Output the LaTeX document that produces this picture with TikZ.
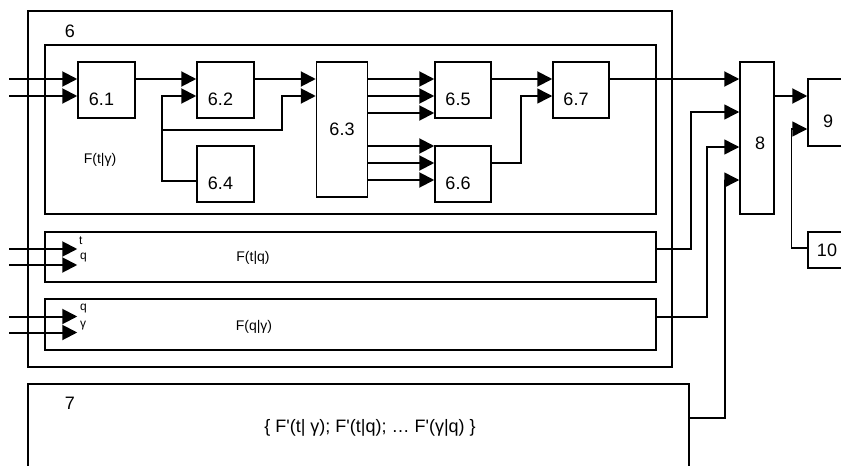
\documentclass[tikz,border=0pt]{standalone}
\usepackage{fontspec}
\setmainfont{Liberation Sans}
\usetikzlibrary{arrows.meta,positioning}
\newcommand{\numfont}{\fontsize{18}{21}\selectfont}
\newcommand{\midfont}{\fontsize{14}{16}\selectfont}
\newcommand{\tinyfont}{\fontsize{12}{14}\selectfont}

\begin{document}
\begin{tikzpicture}[
  x=1pt, y=-1pt,
  >=Latex,
  frame/.style={
    draw,
    line width=1.5pt,
    inner sep=0pt
  },
  blk/.style={frame, minimum width=57pt, minimum height=56pt},
  num/.style={font=\numfont, xshift=-5pt, yshift=-9pt},
  tag/.style={font=\numfont, inner sep=0pt},
  fname/.style={font=\midfont, inner sep=0pt},
  var/.style={font=\tinyfont, inner sep=0pt, anchor=west},
  arr/.style={-{Triangle[length=15pt,width=15pt]}, line width=2pt},
  wire/.style={line width=1.5pt},
  wirearr/.style={-{Triangle[length=15pt,width=15pt]}, line width=1.5pt}
]
  \path[use as bounding box, fill=white] (0,0) rectangle (841,466);

  % outer block 6 and block 7
  \node[frame, minimum width=644pt, minimum height=356pt] (b6) at (350,189) {};
  \node[tag] (lab6) at (70,31) {6};
  \node[frame, minimum width=661pt, minimum height=130pt] (b7) at (358.5,449) {};
  \node[tag] (lab7) at (70,403) {7};
  \node[font=\numfont, inner sep=0pt] (set7) at (370,428)
    {\{ F\textquotesingle(t| γ); F\textquotesingle(t|q); … F\textquotesingle(γ|q) \}};

  % sub-blocks of 6
  \node[frame, minimum width=611pt, minimum height=169pt] (fty) at (350.5,129.5) {};
  \node[fname] (ftylab) at (100,160) {F(t|γ)};
  \node[frame, minimum width=611pt, minimum height=50pt] (ftq) at (350.5,257) {};
  \node[fname] (ftqlab) at (253,258) {F(t|q)};
  \node[frame, minimum width=611pt, minimum height=51pt] (fqg) at (350.5,324.5) {};
  \node[fname] (fqglab) at (254,327) {F(q|γ)};

  \node[var] (vt1) at (79,241) {t};
  \node[var] (vq1) at (80,258) {q};
  \node[var] (vq2) at (80,309) {q};
  \node[var] (vg2) at (80,326) {γ};

  % inner chain
  \node[blk, label={[num]center:6.1}] (b61) at (106.5,90) {};
  \node[blk, label={[num]center:6.2}] (b62) at (225.5,90) {};
  \node[frame, minimum width=51pt, minimum height=135pt, font=\numfont] (b63) at (342,129.5) {6.3};
  \node[blk, label={[num]center:6.4}] (b64) at (225.5,174) {};
  \node[blk, minimum width=56pt, label={[num]center:6.5}] (b65) at (463,90) {};
  \node[blk, minimum width=56pt, label={[num]center:6.6}] (b66) at (463,174) {};
  \node[blk, minimum width=56pt, label={[num]center:6.7}] (b67) at (581,90) {};

  % blocks 8, 9, 10
  \node[frame, minimum width=34pt, minimum height=152pt,
        label={[font=\numfont, xshift=3pt, yshift=-5pt]center:8}] (b8) at (757,138) {};
  \node[frame, minimum width=50pt, minimum height=67pt, label={[num]center:9}] (b9) at (833,112.5) {};
  \node[frame, minimum width=38pt, minimum height=36pt, font=\numfont] (b10) at (827,250) {10};

  % inputs
  \draw[arr] ([xshift=-68pt,yshift=11pt]b61.west) -- ([yshift=11pt]b61.west);
  \draw[arr] ([xshift=-68pt,yshift=-6pt]b61.west) -- ([yshift=-6pt]b61.west);
  \draw[arr] ([xshift=-35pt,yshift=8pt]ftq.west) -- ([xshift=33pt,yshift=8pt]ftq.west);
  \draw[arr] ([xshift=-35pt,yshift=-8pt]ftq.west) -- ([xshift=33pt,yshift=-8pt]ftq.west);
  \draw[arr] ([xshift=-35pt,yshift=8pt]fqg.west) -- ([xshift=33pt,yshift=8pt]fqg.west);
  \draw[arr] ([xshift=-35pt,yshift=-8pt]fqg.west) -- ([xshift=33pt,yshift=-8pt]fqg.west);

  % chain inside F(t|y)
  \draw[arr] ([yshift=11pt]b61.east) -- ([yshift=11pt]b62.west);
  \draw[arr] ([yshift=-7pt]b64.west) -- ++(-34,0) coordinate (split) |- ([yshift=-6pt]b62.west);
  \draw[arr] ([yshift=51pt]split) -- ++(120,0) |- ([yshift=33.5pt]b63.west);
  \draw[arr] ([yshift=11pt]b62.east) -- ([yshift=50.5pt]b63.west);

  \draw[arr] ([yshift=50.5pt]b63.east) -- ([yshift=11pt]b65.west);
  \draw[arr] ([yshift=33.5pt]b63.east) -- ([yshift=-6pt]b65.west);
  \draw[arr] ([yshift=16.5pt]b63.east) -- ([yshift=-23pt]b65.west);
  \draw[arr] ([yshift=-16.5pt]b63.east) -- ([yshift=28pt]b66.west);
  \draw[arr] ([yshift=-33.5pt]b63.east) -- ([yshift=11pt]b66.west);
  \draw[arr] ([yshift=-50.5pt]b63.east) -- ([yshift=-6pt]b66.west);

  \draw[arr] ([yshift=11pt]b65.east) -- ([yshift=11pt]b67.west);
  \draw[wirearr] ([yshift=11pt]b66.east) -- ++(29,0) |- ([yshift=-6pt]b67.west);

  % into 8
  \draw[arr] ([yshift=11pt]b67.east) -- ([yshift=59pt]b8.west);
  \draw[wirearr] ([yshift=8pt]ftq.east) -- ++(34,0) |- ([yshift=26pt]b8.west);
  \draw[wirearr] ([yshift=7.5pt]fqg.east) -- ++(50,0) |- ([yshift=-9pt]b8.west);
  \draw[wirearr] ([yshift=31pt]b7.east) -- ++(35,0) |- ([yshift=-42pt]b8.west);

  % into 9
  \draw[arr] ([yshift=42pt]b8.east) -- ([yshift=16.5pt]b9.west);
  \draw[wirearr] ([yshift=2pt]b10.west) -- ++(-16,0) |- ([yshift=-16.5pt]b9.west);
\end{tikzpicture}
\end{document}
